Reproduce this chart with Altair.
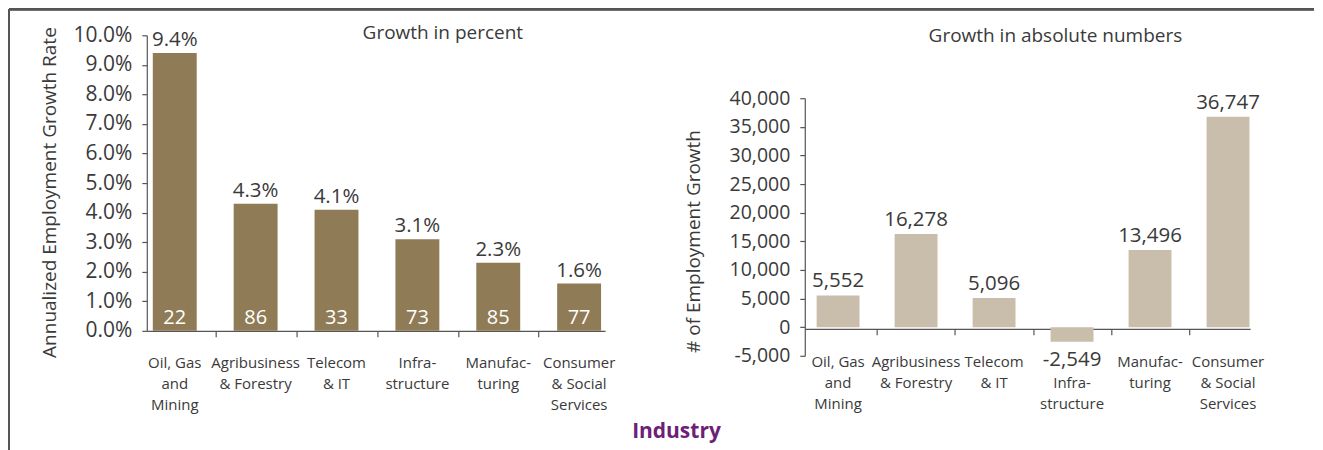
import altair as alt
import pandas as pd

# ---- data -------------------------------------------------------------
industries = ["Oil, Gas|and|Mining", "Agribusiness|& Forestry", "Telecom|& IT",
              "Infra-|structure", "Manufac-|turing", "Consumer|& Social|Services"]
growth_pct = [0.094, 0.043, 0.041, 0.031, 0.023, 0.016]
firm_counts = [22, 86, 33, 73, 85, 77]
growth_abs = [5552, 16278, 5096, -2549, 13496, 36747]
pct_ticks = [0.0, 0.01, 0.02, 0.03, 0.04, 0.05, 0.06, 0.07, 0.08, 0.09, 0.10]
abs_ticks = [-5000, 0, 5000, 10000, 15000, 20000, 25000, 30000, 35000, 40000]

FONT = "Open Sans"
TXT = "#3a3a3a"
LINE = "#555555"
BAR_DARK = "#8f7b56"
BAR_LIGHT = "#c9bdab"

left_df = pd.DataFrame({"industry": industries, "pct": growth_pct, "n": firm_counts})
left_df["zero"] = 0.0
right_df = pd.DataFrame({"industry": industries, "abs": growth_abs})
right_df["label"] = [f"{v:,}" for v in growth_abs]

LW, LH = 459, 296
RW, RH = 446, 321

# ---- left panel -------------------------------------------------------
scale_xl = alt.Scale(paddingInner=0.457, paddingOuter=0.062, align=0.6)
x_left_lab = alt.X(
    "industry:N", sort=industries, title=None, scale=scale_xl,
    axis=alt.Axis(orient="bottom", labelAngle=0,
                  labelExpr="split(datum.label, '|')",
                  labelFontSize=15, labelLineHeight=21, labelPadding=25,
                  ticks=False, labelLimit=200),
)
x_left_tick = alt.X(
    "industry:N", sort=industries, title=None, scale=scale_xl,
    axis=alt.Axis(orient="bottom", labels=False, domain=False, tickSize=6,
                  tickOffset=40.5, values=industries[:5]),
)
x_left_none = alt.X("industry:N", sort=industries, title=None, scale=scale_xl, axis=None)

y_axis_l = alt.Axis(values=pct_ticks, format=".1%", labelOverlap=False,
                    tickCount=11, labelSeparation=0,
                    title="Annualized Employment Growth Rate",
                    titleFontSize=19, titlePadding=14, titleY=157,
                    labelFontSize=21, labelPadding=10, tickSize=5)
y_scale_l = alt.Scale(domain=[0, 0.1])
y_left = alt.Y("pct:Q", scale=y_scale_l, axis=y_axis_l)
y_zero = alt.Y("zero:Q", scale=y_scale_l, axis=y_axis_l)

bars_l = alt.Chart(left_df).mark_bar(color=BAR_DARK).encode(x=x_left_lab, y=y_left)
top_l = alt.Chart(left_df).mark_text(
    baseline="alphabetic", dy=-7, fontSize=20.5, font=FONT, color=TXT
).encode(x=x_left_none, y=y_left, text=alt.Text("pct:Q", format=".1%"))
in_l = alt.Chart(left_df).mark_text(
    baseline="alphabetic", dy=-7, fontSize=20, font=FONT, color="white"
).encode(x=x_left_tick, y=y_zero, text=alt.Text("n:Q"))

# panel frame (top and left edge lines of the white card)
frame_top = alt.Chart(left_df).mark_rule(color=LINE, strokeWidth=2).encode(
    x=alt.value(-138), x2=alt.value(1169), y=alt.value(-26))
frame_left = alt.Chart(left_df).mark_rule(color=LINE, strokeWidth=2).encode(
    x=alt.value(-138), y=alt.value(-26), y2=alt.value(416))

left = alt.layer(bars_l, top_l, in_l, frame_top, frame_left).resolve_axis(
    x="independent").properties(
    width=LW, height=LH,
    title=alt.TitleParams("Growth in percent", fontSize=19, font=FONT,
                          fontWeight="normal", color=TXT, anchor="middle",
                          frame="group", dx=67, offset=-35),
)

# ---- right panel ------------------------------------------------------
scale_xr = alt.Scale(paddingInner=0.45, paddingOuter=0.08, align=0.95)
x_right_lab = alt.X(
    "industry:N", sort=industries, title=None, scale=scale_xr,
    axis=alt.Axis(orient="bottom", labelAngle=0,
                  labelExpr="indexof(datum.label, 'Infra') == 0 ? split('|' + datum.label, '|') : split(datum.label, '|')",
                  labelFontSize=15, labelLineHeight=21, labelPadding=26,
                  ticks=False, offset=-27, labelLimit=200),
)
x_right_tick = alt.X(
    "industry:N", sort=industries, title=None, scale=scale_xr,
    axis=alt.Axis(orient="bottom", labels=False, domain=False, tickSize=6,
                  tickOffset=39, offset=-27, values=industries[:5]),
)
x_right_none = alt.X("industry:N", sort=industries, title=None, scale=scale_xr, axis=None)

y_right = alt.Y(
    "abs:Q", scale=alt.Scale(domain=[-5000, 40000], range=[RH, 63]),
    axis=alt.Axis(values=abs_ticks, labelOverlap=False,
                  labelExpr="(datum.value < 0 ? '-' : '') + format(abs(datum.value), ',')",
                  title="# of Employment Growth",
                  titleFontSize=19, titlePadding=26, titleY=206,
                  labelFontSize=19.5, labelPadding=10, tickSize=5),
)

bars_r = alt.Chart(right_df).mark_bar(color=BAR_LIGHT).encode(x=x_right_lab, y=y_right)
pos_r = alt.Chart(right_df).transform_filter("datum.abs >= 0").mark_text(
    baseline="alphabetic", dy=-8, fontSize=20.5, font=FONT, color=TXT
).encode(x=x_right_tick, y=y_right, text="label:N")
neg_r = alt.Chart(right_df).transform_filter("datum.abs < 0").mark_text(
    baseline="top", dy=8, fontSize=20.5, font=FONT, color=TXT
).encode(x=x_right_none, y=y_right, text="label:N")

right = alt.layer(bars_r, pos_r, neg_r).resolve_axis(x="independent").properties(
    width=RW, height=RH,
    title=alt.TitleParams("Growth in absolute numbers", fontSize=19, font=FONT,
                          fontWeight="normal", color=TXT, anchor="middle",
                          frame="group", dx=28, offset=-11),
)

chart = alt.hconcat(
    left, right, spacing=200, bounds="flush",
    title=alt.TitleParams("Industry", orient="bottom", anchor="middle",
                          fontSize=21, fontWeight="bold", font=FONT,
                          color="#6d2077", dx=15, offset=-31),
).properties(
    padding={"left": 0, "top": 0, "right": 0, "bottom": 0},
    background="white",
).configure_view(stroke=None).configure_axis(
    labelFont=FONT, titleFont=FONT, labelColor=TXT, titleColor=TXT,
    domainColor=LINE, tickColor=LINE, grid=False, titleFontWeight="normal",
    domainWidth=1.2, tickWidth=1.2, labelOverlap=False,
)

chart.save("out.html", embed_options={"renderer": "svg", "actions": False})
